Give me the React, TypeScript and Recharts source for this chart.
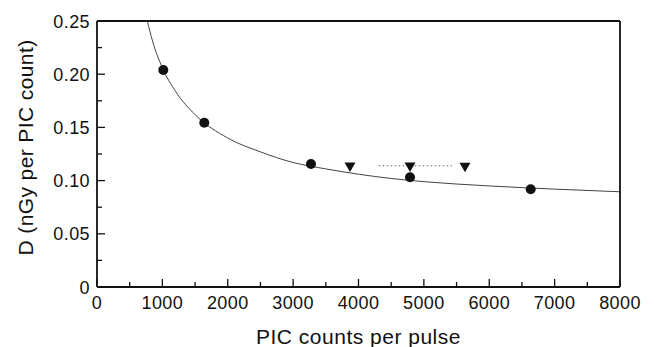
import React from 'react';
import { ComposedChart, Line, Scatter, XAxis, YAxis } from 'recharts';

// measured dose per PIC count (circles)
const circleX = [1014, 1641, 3273, 4788, 6634];
const circleY = [0.2039, 0.1544, 0.1156, 0.1031, 0.0918];

// second set (down triangles)
const triangleX = [3870, 4788, 5629];
const triangleY = [0.1128, 0.1128, 0.1125];

// dotted horizontal segment near the middle triangle
const dottedX = [4310, 5430];
const dottedY = [0.114, 0.114];

// fitted curve
const curveX = [770, 850, 1000, 1200, 1500, 2000, 2500, 3000, 3500, 4000, 4500, 5000, 6000, 7000, 8000];
const curveY = [0.25, 0.231, 0.206, 0.184, 0.162, 0.14, 0.127, 0.117, 0.111, 0.106, 0.102, 0.099, 0.095, 0.092, 0.0895];

const xTicks = [0, 500, 1000, 1500, 2000, 2500, 3000, 3500, 4000, 4500, 5000, 5500, 6000, 6500, 7000, 7500, 8000];
const yTicks = [0, 0.025, 0.05, 0.075, 0.1, 0.125, 0.15, 0.175, 0.2, 0.225, 0.25];

const zip = (xs: number[], ys: number[]) => xs.map((x, i) => ({ x, y: ys[i] }));
const circles = zip(circleX, circleY);
const triangles = zip(triangleX, triangleY);
const dotted = zip(dottedX, dottedY);
const curve = zip(curveX, curveY);

const FONT = '"Liberation Sans", Arial, Helvetica, sans-serif';
const INK = '#111';

const isMajorX = (v: number) => v % 1000 === 0;
const isMajorY = (v: number) => Math.round(v * 1000) % 50 === 0;
const yLabel = (v: number) => (v === 0 ? '0' : v.toFixed(2));

function BottomTick({ x, y, payload }: any) {
  const major = isMajorX(payload.value);
  return (
    <g>
      <line x1={x} x2={x} y1={y} y2={y - (major ? 8 : 5)} stroke={INK} strokeWidth={1.3} />
      {major && (
        <text x={x} y={y + 22} textAnchor="middle" fontSize={18} fontFamily={FONT} letterSpacing={0.4} fill={INK}>
          {payload.value}
        </text>
      )}
    </g>
  );
}

function TopTick({ x, y, payload }: any) {
  const major = isMajorX(payload.value);
  return <line x1={x} x2={x} y1={y} y2={y + (major ? 8 : 4)} stroke={INK} strokeWidth={1.3} />;
}

function LeftTick({ x, y, payload }: any) {
  const major = isMajorY(payload.value);
  return (
    <g>
      <line x1={x} x2={x + (major ? 8 : 5)} y1={y} y2={y} stroke={INK} strokeWidth={1.3} />
      {major && (
        <text x={x - 7} y={y + 6.5} textAnchor="end" fontSize={18} fontFamily={FONT} letterSpacing={0.4} fill={INK}>
          {yLabel(payload.value)}
        </text>
      )}
    </g>
  );
}

function RightTick({ x, y, payload }: any) {
  const major = isMajorY(payload.value);
  return <line x1={x} x2={x - (major ? 8 : 5)} y1={y} y2={y} stroke={INK} strokeWidth={1.3} />;
}

function Dot({ cx, cy }: any) {
  return <circle cx={cx} cy={cy} r={5} fill={INK} />;
}

function DownTriangle({ cx, cy }: any) {
  return <path d={`M${cx - 5.5},${cy - 4.5} L${cx + 5.5},${cy - 4.5} L${cx},${cy + 5} Z`} fill={INK} />;
}

const axisLine = { stroke: INK, strokeWidth: 1.8 };

export default function App() {
  return (
    <div style={{ width: 649, height: 339 }}>
      <ComposedChart width={649} height={339} margin={{ top: 12, right: 36, bottom: 0, left: 29 }}>
        <XAxis
          dataKey="x"
          type="number"
          domain={[0, 8000]}
          ticks={xTicks}
          interval={0}
          height={60}
          tickSize={0}
          tickMargin={0}
          tickLine={false}
          axisLine={axisLine}
          tick={<BottomTick />}
          label={{
            value: 'PIC counts per pulse',
            content: (p: any) => (
              <text
                x={p.viewBox.x + p.viewBox.width / 2}
                y={p.viewBox.y + p.viewBox.height - 3.5}
                textAnchor="middle"
                fontSize={21}
                fontFamily={FONT}
                letterSpacing={0.5}
                fill={INK}
              >
                PIC counts per pulse
              </text>
            ),
          }}
        />
        <XAxis
          xAxisId="top"
          orientation="top"
          dataKey="x"
          type="number"
          domain={[0, 8000]}
          ticks={xTicks}
          interval={0}
          height={1}
          tickSize={0}
          tickMargin={0}
          tickLine={false}
          axisLine={axisLine}
          tick={<TopTick />}
        />
        <YAxis
          type="number"
          domain={[0, 0.25]}
          ticks={yTicks}
          interval={0}
          width={60}
          tickSize={0}
          tickMargin={0}
          tickLine={false}
          axisLine={axisLine}
          allowDataOverflow
          tick={<LeftTick />}
          label={{
            value: 'D (nGy per PIC count)',
            content: (p: any) => {
              const cx = p.viewBox.x - 3.7;
              const cy = 139.5;
              return (
                <text
                  x={cx}
                  y={cy}
                  transform={`rotate(-90, ${cx}, ${cy})`}
                  textAnchor="middle"
                  fontSize={21}
                  fontFamily={FONT}
                  letterSpacing={0.4}
                  fill={INK}
                >
                  D (nGy per PIC count)
                </text>
              );
            },
          }}
        />
        <YAxis
          yAxisId="right"
          orientation="right"
          type="number"
          domain={[0, 0.25]}
          ticks={yTicks}
          interval={0}
          width={1}
          tickSize={0}
          tickMargin={0}
          tickLine={false}
          axisLine={axisLine}
          tick={<RightTick />}
        />
        <Line
          data={curve}
          dataKey="y"
          type="monotone"
          stroke="#444"
          strokeWidth={1}
          dot={false}
          activeDot={false}
          isAnimationActive={false}
        />
        <Line
          data={dotted}
          dataKey="y"
          type="linear"
          stroke="#666"
          strokeWidth={1}
          strokeDasharray="1.5 2.5"
          dot={false}
          activeDot={false}
          isAnimationActive={false}
        />
        <Scatter data={circles} dataKey="y" shape={<Dot />} isAnimationActive={false} />
        <Scatter data={triangles} dataKey="y" shape={<DownTriangle />} isAnimationActive={false} />
      </ComposedChart>
    </div>
  );
}
